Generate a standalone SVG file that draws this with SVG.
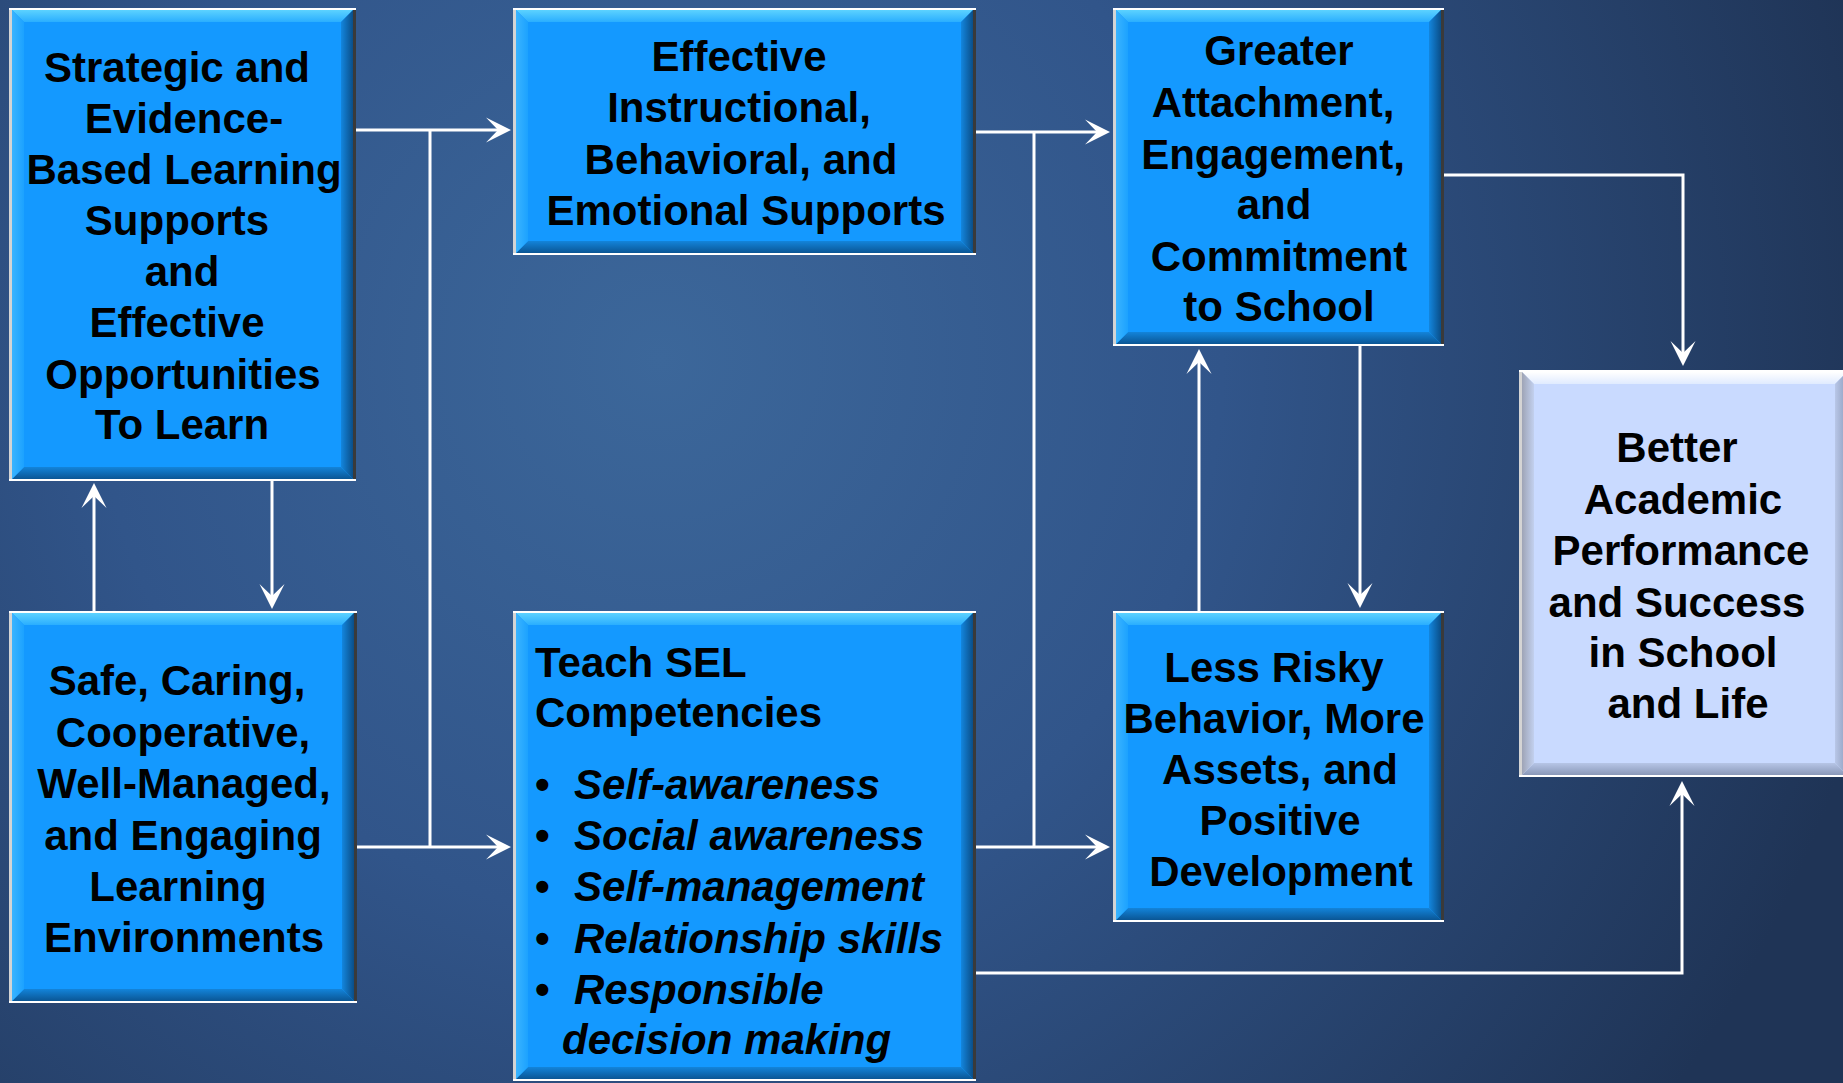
<svg xmlns="http://www.w3.org/2000/svg" width="1843" height="1083" viewBox="0 0 1843 1083">
<defs>
<radialGradient id="bg" gradientUnits="userSpaceOnUse" cx="660" cy="360" r="1250">
<stop offset="0" stop-color="#3C679A"/>
<stop offset="0.45" stop-color="#31558A"/>
<stop offset="1" stop-color="#1F3456"/>
</radialGradient>
<linearGradient id="bT" x1="0" y1="0" x2="0" y2="1"><stop offset="0" stop-color="#5CD2FF"/><stop offset="1" stop-color="#2AAEFF"/></linearGradient>
<linearGradient id="bL" x1="0" y1="0" x2="1" y2="0"><stop offset="0" stop-color="#3AB4FF"/><stop offset="1" stop-color="#1CA2FF"/></linearGradient>
<linearGradient id="bB" x1="0" y1="0" x2="0" y2="1"><stop offset="0" stop-color="#1384DA"/><stop offset="1" stop-color="#0A5695"/></linearGradient>
<linearGradient id="bR" x1="0" y1="0" x2="1" y2="0"><stop offset="0" stop-color="#1386DE"/><stop offset="1" stop-color="#0A4E88"/></linearGradient>
<linearGradient id="lT" x1="0" y1="0" x2="0" y2="1"><stop offset="0" stop-color="#FFFFFF"/><stop offset="1" stop-color="#E0EBFF"/></linearGradient>
<linearGradient id="lL" x1="0" y1="0" x2="1" y2="0"><stop offset="0" stop-color="#9EA4B6"/><stop offset="1" stop-color="#C2D0EE"/></linearGradient>
<linearGradient id="lB" x1="0" y1="0" x2="0" y2="1"><stop offset="0" stop-color="#B6C5E6"/><stop offset="1" stop-color="#8A98B8"/></linearGradient>
<linearGradient id="lR" x1="0" y1="0" x2="1" y2="0"><stop offset="0" stop-color="#B8C7E8"/><stop offset="1" stop-color="#909EBE"/></linearGradient>
<marker id="ah" markerUnits="userSpaceOnUse" viewBox="-13 -13 27 26" refX="0" refY="0" markerWidth="27" markerHeight="26" orient="auto" overflow="visible">
<path d="M13,0 L-12,-12.5 L0,0 L-12,12.5 Z" fill="#FFFFFF"/>
</marker>
</defs>
<style>
.frame{fill:#D4D4D4}
.hl{fill:#FFFFFF}
.shade{fill:#3A3A3A}
.blue .fill{fill:#1499FF}
.blue .t{fill:url(#bT)}
.blue .l{fill:url(#bL)}
.blue .b{fill:url(#bB)}
.blue .r{fill:url(#bR)}
.light .fill{fill:#C9DAFF}
.light .t{fill:url(#lT)}
.light .l{fill:url(#lL)}
.light .b{fill:url(#lB)}
.light .r{fill:url(#lR)}
text{font-family:"Liberation Sans",Arial,sans-serif;font-weight:bold;font-size:42px;fill:#000000}
.c{text-anchor:middle}
.i{font-style:italic}
.conn path{fill:none;stroke:#FFFFFF;stroke-width:3;marker-end:url(#ah)}
.conn path.plain{marker-end:none}
</style>
<rect x="0" y="0" width="1843" height="1083" fill="url(#bg)"/>

<g id="connectors" class="conn">
<path d="M356,130 H498"/>
<path d="M357,847 H498"/>
<path class="plain" d="M430,130 V847"/>
<path d="M272,481 V596"/>
<path d="M94,611 V496"/>
<path d="M976,132 H1097"/>
<path d="M976,847 H1097"/>
<path class="plain" d="M1034,132 V847"/>
<path d="M1444,175 H1683 V353"/>
<path d="M1360,346 V595"/>
<path d="M1199,611 V362"/>
<path d="M976,973 H1682 V794"/>
</g>

<g id="node-strategic" class="blue">
<rect class="frame" x="9" y="8" width="347" height="473"/>
<rect class="hl" x="9" y="8" width="347" height="2"/>
<rect class="hl" x="9" y="479" width="347" height="2"/>
<rect class="shade" x="353" y="10" width="3" height="469"/>
<rect class="fill" x="12" y="10" width="341" height="469"/>
<polygon class="t" points="12,10 353,10 341,22 24,22"/>
<polygon class="b" points="12,479 353,479 341,467 24,467"/>
<polygon class="l" points="12,10 24,22 24,467 12,479"/>
<polygon class="r" points="353,10 341,22 341,467 353,479"/>
<text class="c" x="177" y="82">Strategic and</text>
<text class="c" x="184" y="133">Evidence-</text>
<text class="c" x="184" y="184">Based Learning</text>
<text class="c" x="177" y="235">Supports</text>
<text class="c" x="182" y="286">and</text>
<text class="c" x="177" y="337">Effective</text>
<text class="c" x="183" y="389">Opportunities</text>
<text class="c" x="182" y="439">To Learn</text>
</g>

<g id="node-safe" class="blue">
<rect class="frame" x="9" y="611" width="348" height="392"/>
<rect class="hl" x="9" y="611" width="348" height="2"/>
<rect class="hl" x="9" y="1001" width="348" height="2"/>
<rect class="shade" x="354" y="613" width="3" height="388"/>
<rect class="fill" x="12" y="613" width="342" height="388"/>
<polygon class="t" points="12,613 354,613 342,625 24,625"/>
<polygon class="b" points="12,1001 354,1001 342,989 24,989"/>
<polygon class="l" points="12,613 24,625 24,989 12,1001"/>
<polygon class="r" points="354,613 342,625 342,989 354,1001"/>
<text class="c" x="177" y="695">Safe, Caring,</text>
<text class="c" x="183" y="747">Cooperative,</text>
<text class="c" x="184" y="798">Well-Managed,</text>
<text class="c" x="183" y="850">and Engaging</text>
<text class="c" x="178" y="901">Learning</text>
<text class="c" x="184" y="952">Environments</text>
</g>

<g id="node-effective" class="blue">
<rect class="frame" x="513" y="8" width="463" height="247"/>
<rect class="hl" x="513" y="8" width="463" height="2"/>
<rect class="hl" x="513" y="253" width="463" height="2"/>
<rect class="shade" x="973" y="10" width="3" height="243"/>
<rect class="fill" x="516" y="10" width="457" height="243"/>
<polygon class="t" points="516,10 973,10 961,22 528,22"/>
<polygon class="b" points="516,253 973,253 961,241 528,241"/>
<polygon class="l" points="516,10 528,22 528,241 516,253"/>
<polygon class="r" points="973,10 961,22 961,241 973,253"/>
<text class="c" x="739" y="71">Effective</text>
<text class="c" x="739" y="122">Instructional,</text>
<text class="c" x="741" y="174">Behavioral, and</text>
<text class="c" x="746" y="225">Emotional Supports</text>
</g>

<g id="node-sel" class="blue">
<rect class="frame" x="513" y="611" width="463" height="470"/>
<rect class="hl" x="513" y="611" width="463" height="2"/>
<rect class="hl" x="513" y="1079" width="463" height="2"/>
<rect class="shade" x="973" y="613" width="3" height="466"/>
<rect class="fill" x="516" y="613" width="457" height="466"/>
<polygon class="t" points="516,613 973,613 961,625 528,625"/>
<polygon class="b" points="516,1079 973,1079 961,1067 528,1067"/>
<polygon class="l" points="516,613 528,625 528,1067 516,1079"/>
<polygon class="r" points="973,613 961,625 961,1067 973,1079"/>
<text x="535" y="677">Teach SEL</text>
<text x="535" y="727">Competencies</text>
<text x="535" y="799">•</text>
<text x="535" y="850">•</text>
<text x="535" y="901">•</text>
<text x="535" y="953">•</text>
<text x="535" y="1004">•</text>
<text class="i" x="574" y="799">Self-awareness</text>
<text class="i" x="574" y="850">Social awareness</text>
<text class="i" x="574" y="901">Self-management</text>
<text class="i" x="574" y="953">Relationship skills</text>
<text class="i" x="574" y="1004">Responsible</text>
<text class="i" x="562" y="1054">decision making</text>
</g>

<g id="node-attachment" class="blue">
<rect class="frame" x="1113" y="8" width="331" height="338"/>
<rect class="hl" x="1113" y="8" width="331" height="2"/>
<rect class="hl" x="1113" y="344" width="331" height="2"/>
<rect class="shade" x="1441" y="10" width="3" height="334"/>
<rect class="fill" x="1116" y="10" width="325" height="334"/>
<polygon class="t" points="1116,10 1441,10 1429,22 1128,22"/>
<polygon class="b" points="1116,344 1441,344 1429,332 1128,332"/>
<polygon class="l" points="1116,10 1128,22 1128,332 1116,344"/>
<polygon class="r" points="1441,10 1429,22 1429,332 1441,344"/>
<text class="c" x="1279" y="65">Greater</text>
<text class="c" x="1273" y="117">Attachment,</text>
<text class="c" x="1273" y="169">Engagement,</text>
<text class="c" x="1274" y="219">and</text>
<text class="c" x="1279" y="271">Commitment</text>
<text class="c" x="1279" y="321">to School</text>
</g>

<g id="node-risky" class="blue">
<rect class="frame" x="1113" y="611" width="331" height="311"/>
<rect class="hl" x="1113" y="611" width="331" height="2"/>
<rect class="hl" x="1113" y="920" width="331" height="2"/>
<rect class="shade" x="1441" y="613" width="3" height="307"/>
<rect class="fill" x="1116" y="613" width="325" height="307"/>
<polygon class="t" points="1116,613 1441,613 1429,625 1128,625"/>
<polygon class="b" points="1116,920 1441,920 1429,908 1128,908"/>
<polygon class="l" points="1116,613 1128,625 1128,908 1116,920"/>
<polygon class="r" points="1441,613 1429,625 1429,908 1441,920"/>
<text class="c" x="1274" y="682">Less Risky</text>
<text class="c" x="1274" y="733">Behavior, More</text>
<text class="c" x="1280" y="784">Assets, and</text>
<text class="c" x="1280" y="835">Positive</text>
<text class="c" x="1281" y="886">Development</text>
</g>

<g id="node-academic" class="light">
<rect class="frame" x="1519" y="370" width="331" height="407"/>
<rect class="hl" x="1519" y="370" width="331" height="2"/>
<rect class="hl" x="1519" y="775" width="331" height="2"/>
<rect class="shade" x="1847" y="372" width="3" height="403"/>
<rect class="fill" x="1522" y="372" width="325" height="403"/>
<polygon class="t" points="1522,372 1847,372 1835,384 1534,384"/>
<polygon class="b" points="1522,775 1847,775 1835,763 1534,763"/>
<polygon class="l" points="1522,372 1534,384 1534,763 1522,775"/>
<polygon class="r" points="1847,372 1835,384 1835,763 1847,775"/>
<text class="c" x="1677" y="462">Better</text>
<text class="c" x="1683" y="514">Academic</text>
<text class="c" x="1681" y="565">Performance</text>
<text class="c" x="1677" y="617">and Success</text>
<text class="c" x="1683" y="667">in School</text>
<text class="c" x="1688" y="718">and Life</text>
</g>
</svg>
